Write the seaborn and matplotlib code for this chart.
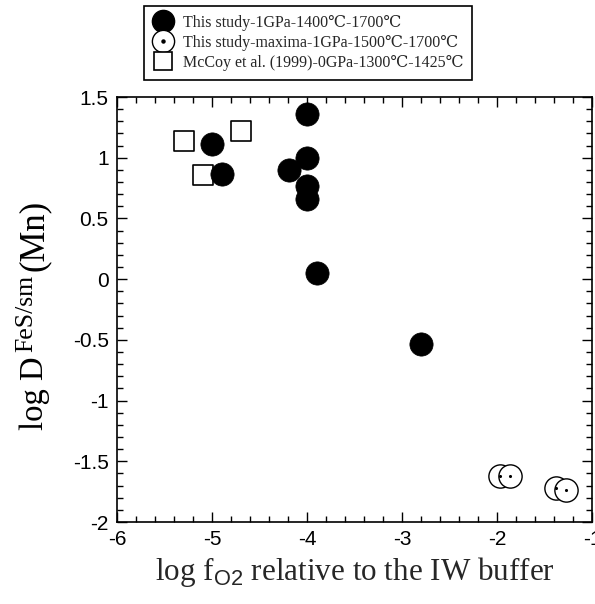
import matplotlib
matplotlib.use("Agg")
import matplotlib.pyplot as plt
import seaborn as sns
import pandas as pd
from matplotlib.ticker import MultipleLocator, FixedLocator
from matplotlib.lines import Line2D
from matplotlib.legend_handler import HandlerTuple

# ---- data ----
filled_x = [-5.0, -4.9, -4.0, -4.0, -4.19, -4.0, -4.0, -3.9, -2.8]
filled_y = [1.11, 0.87, 1.36, 1.0, 0.90, 0.77, 0.66, 0.05, -0.53]
open_x = [-1.97, -1.86, -1.38, -1.27]
open_y = [-1.62, -1.62, -1.72, -1.74]
mccoy_x = [-5.3, -5.1, -4.7]
mccoy_y = [1.14, 0.86, 1.22]

labels = ["This study-1GPa-1400\u2103-1700\u2103",
          "This study-maxima-1GPa-1500\u2103-1700\u2103",
          "McCoy et al. (1999)-0GPa-1300\u2103-1425\u2103"]
xticks = [-6, -5, -4, -3, -2, -1]
yticks = [-2, -1.5, -1, -0.5, 0, 0.5, 1, 1.5]

sns.set_theme(style="white")
plt.rcParams['font.family'] = ['Liberation Sans', 'DejaVu Sans']
plt.rcParams['mathtext.fontset'] = 'custom'
plt.rcParams['mathtext.rm'] = 'Liberation Serif'
plt.rcParams['mathtext.sf'] = 'Liberation Sans'
SERIF = ['Liberation Serif', 'DejaVu Serif', 'DejaVu Sans']

W, H = 595, 604
fig = plt.figure(figsize=(W / 100, H / 100), dpi=100)
ax = fig.add_axes([117 / W, (H - 522) / H, 475 / W, 425 / H])

df_f = pd.DataFrame({"x": filled_x, "y": filled_y})
df_o = pd.DataFrame({"x": open_x, "y": open_y})
df_m = pd.DataFrame({"x": mccoy_x, "y": mccoy_y})

sns.scatterplot(data=df_m, x="x", y="y", marker="s", s=190, facecolor="white",
                edgecolor="black", linewidth=1.2, ax=ax, zorder=3)
sns.scatterplot(data=df_f, x="x", y="y", marker="o", s=280, color="black",
                edgecolor="black", linewidth=0.5, ax=ax, zorder=4)
sns.scatterplot(data=df_o, x="x", y="y", marker="o", s=280, facecolor="white",
                edgecolor="black", linewidth=1.0, ax=ax, zorder=4)
sns.scatterplot(data=df_o, x="x", y="y", marker="o", s=5, color="black",
                edgecolor="black", linewidth=0, ax=ax, zorder=5)

ax.set_xlim(-6, -1)
ax.set_ylim(-2, 1.5)
ax.xaxis.set_major_locator(FixedLocator(xticks))
ax.yaxis.set_major_locator(FixedLocator(yticks))
ax.xaxis.set_minor_locator(MultipleLocator(0.2))
ax.yaxis.set_minor_locator(MultipleLocator(0.1))
ax.set_xticklabels([f"{t:g}" for t in xticks])
ax.set_yticklabels([f"{t:g}" for t in yticks])
ax.tick_params(which="both", direction="in", top=True, right=True,
               bottom=True, left=True, colors="black", labelsize=15, width=1)
ax.tick_params(which="major", length=7, pad=6)
ax.tick_params(which="minor", length=4)
for s in ax.spines.values():
    s.set_color("black")
    s.set_linewidth(1.2)

ax.set_xlabel(r"log f$_{\mathsf{O2}}$ relative to the IW buffer",
              family=SERIF, fontsize=22.4, labelpad=4)
ax.set_ylabel("")

# y label built from pieces (rotated), so the superscript can be sized freely
renderer = fig.canvas.get_renderer()
ylab_parts = [("log D", 23.5, 0), ("FeS/sm", 18.5, -11), ("(Mn)", 25, 0)]
base_x = 43
cur_y = 430
for txt, size, dx in ylab_parts:
    t = fig.text((base_x + dx) / W, (H - cur_y) / H, txt, rotation=90,
                 rotation_mode="anchor", ha="left", va="baseline",
                 fontsize=size, family=SERIF, color="black")
    ext = t.get_window_extent(renderer)
    cur_y -= ext.height + 4

h1 = Line2D([], [], marker="o", ls="", markersize=16, color="black")
h2a = Line2D([], [], marker="o", ls="", markersize=16, markerfacecolor="white",
             markeredgecolor="black", markeredgewidth=1.0)
h2b = Line2D([], [], marker="o", ls="", markersize=2.2, color="black")
h3 = Line2D([], [], marker="s", ls="", markersize=13, markerfacecolor="white",
            markeredgecolor="black", markeredgewidth=1.2)
leg = fig.legend([h1, (h2a, h2b), h3], labels,
                 handler_map={tuple: HandlerTuple(ndivide=1, pad=0)},
                 loc="upper left", bbox_to_anchor=(144 / W, 1 - 6 / H),
                 prop={"family": SERIF, "size": 11.5},
                 frameon=True, fancybox=False, edgecolor="black",
                 framealpha=1, borderpad=0.55, labelspacing=0.26,
                 handlelength=1.3, handletextpad=0.6, borderaxespad=0)
leg.get_frame().set_linewidth(1.2)

fig.savefig("out.png", dpi=100)
